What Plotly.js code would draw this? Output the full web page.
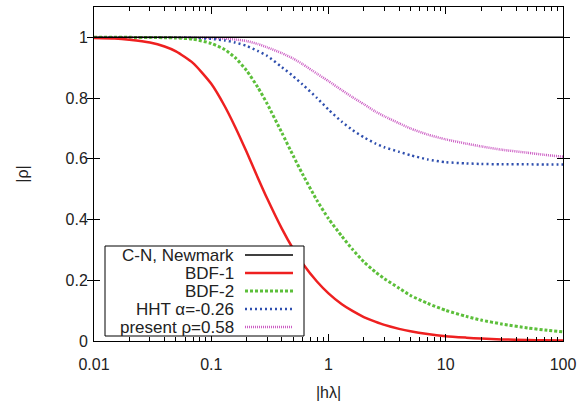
<!DOCTYPE html>
<html>
<head>
<meta charset="utf-8">
<script src="https://cdn.plot.ly/plotly-3.0.1.min.js"></script>
<style>html,body{margin:0;padding:0;background:#fff;}#chart{width:586px;height:401px;}</style>
</head>
<body>
<div id="chart"></div>
<script>
// |hλ| sample positions
var hl = [0.01, 0.015, 0.02, 0.03, 0.04, 0.05, 0.07, 0.1, 0.13, 0.16, 0.2, 0.25, 0.3, 0.4, 0.5, 0.6, 0.8, 1, 1.3, 1.6, 2, 2.5, 3, 4, 5, 7, 10, 15, 20, 30, 50, 70, 100];
// |ρ|
var cnNewmark = [1, 1, 1, 1, 1, 1, 1, 1, 1, 1, 1, 1, 1, 1, 1, 1, 1, 1, 1, 1, 1, 1, 1, 1, 1, 1, 1, 1, 1, 1, 1, 1, 1];
var bdf1 = [0.998, 0.996, 0.992, 0.983, 0.970, 0.954, 0.915, 0.847, 0.774, 0.705, 0.623, 0.537, 0.469, 0.370, 0.303, 0.256, 0.195, 0.157, 0.121, 0.099, 0.079, 0.064, 0.053, 0.040, 0.032, 0.023, 0.016, 0.011, 0.008, 0.0053, 0.0032, 0.0023, 0.0016];
var bdf2 = [1.0, 1.0, 1.0, 0.9995, 0.999, 0.998, 0.994, 0.980, 0.960, 0.933, 0.891, 0.835, 0.781, 0.686, 0.610, 0.550, 0.462, 0.403, 0.345, 0.302, 0.261, 0.228, 0.205, 0.174, 0.150, 0.124, 0.101, 0.081, 0.069, 0.056, 0.043, 0.036, 0.030];
var hht = [1.0, 1.0, 1.0, 1.0, 0.999, 0.999, 0.998, 0.995, 0.990, 0.983, 0.972, 0.955, 0.939, 0.902, 0.872, 0.845, 0.800, 0.762, 0.722, 0.695, 0.671, 0.651, 0.638, 0.623, 0.612, 0.598, 0.589, 0.585, 0.583, 0.582, 0.582, 0.581, 0.581];
var present = [1.0, 1.0, 1.0, 1.0, 1.0, 1.0, 0.999, 0.998, 0.996, 0.993, 0.988, 0.978, 0.967, 0.948, 0.930, 0.912, 0.880, 0.856, 0.826, 0.803, 0.780, 0.756, 0.740, 0.717, 0.700, 0.680, 0.664, 0.650, 0.641, 0.630, 0.620, 0.613, 0.607];
var seriesNames = ["C-N, Newmark", "BDF-1", "BDF-2", "HHT α=-0.26", "present ρ=0.58"];
var xTickVals = [0.01, 0.1, 1, 10, 100];
var xTickText = ["0.01", "0.1", "1", "10", "100"];
var yTickVals = [0, 0.2, 0.4, 0.6, 0.8, 1];
var yTickText = ["0", "0.2", "0.4", "0.6", "0.8", "1"];

// minor log ticks 2..9 in each decade
var xMinorVals = [];
for (var d = 0; d < 4; d++) {
  for (var m = 2; m <= 9; m++) xMinorVals.push(xTickVals[d] * m);
}

var styles = [
  {color: "#000000", width: 1.5, dash: "solid"},
  {color: "#ee2020", width: 2.5, dash: "solid"},
  {color: "#5cbf3a", width: 3, dash: "3px,2px"},
  {color: "#2f4fae", width: 2.5, dash: "2px,3px"},
  {color: "#cc5ec4", width: 2.5, dash: "1px,1px"}
];
var ys = [cnNewmark, bdf1, bdf2, hht, present];

var traces = [];
var order = [4, 3, 2, 1, 0];
order.forEach(function (i) {
  traces.push({
    x: hl, y: ys[i], name: seriesNames[i], type: "scatter", mode: "lines",
    line: {color: styles[i].color, width: styles[i].width, dash: styles[i].dash, shape: "spline", smoothing: 0.6},
    showlegend: false, hoverinfo: "skip"
  });
});
// invisible trace that carries the minor-tick axis
traces.push({x: [0.01, 100], y: [0, 0], xaxis: "x2", yaxis: "y", mode: "lines",
  line: {width: 0, color: "rgba(0,0,0,0)"}, showlegend: false, hoverinfo: "skip"});

// custom legend (text left of sample, like the original)
var shapes = [];
var annotations = [];
var boxX0 = (105 - 94) / 469, boxX1 = (304 - 94) / 469;
var boxY0 = (341 - 336) / 334, boxY1 = (341 - 246) / 334;
shapes.push({type: "rect", xref: "paper", yref: "paper", x0: boxX0, x1: boxX1, y0: boxY0, y1: boxY1,
  line: {color: "#000", width: 1}, fillcolor: "#fff", layer: "above"});
var rowPx = [255, 273, 291, 309, 327];
var sx0 = (245 - 94) / 469, sx1 = (293 - 94) / 469, tx = (235 - 94) / 469;
for (var i = 0; i < 5; i++) {
  var yp = (341 - rowPx[i]) / 334;
  shapes.push({type: "line", xref: "paper", yref: "paper", x0: sx0, x1: sx1, y0: yp, y1: yp,
    line: {color: styles[i].color, width: styles[i].width, dash: styles[i].dash}, layer: "above"});
  annotations.push({xref: "paper", yref: "paper", x: tx, y: yp, xanchor: "right", yanchor: "middle",
    text: seriesNames[i], showarrow: false, borderpad: 0, font: {size: 17, color: "#222"}});
}

var layout = {
  width: 586, height: 401,
  margin: {l: 94, r: 23, t: 7, b: 60},
  paper_bgcolor: "#fff", plot_bgcolor: "#fff",
  font: {family: "Liberation Sans, Arial, sans-serif", size: 16, color: "#222"},
  showlegend: false,
  xaxis: {
    type: "log", range: [-2, 2],
    tickvals: xTickVals, ticktext: xTickText,
    ticks: "inside", ticklen: 7, tickwidth: 1, tickcolor: "#000",
    ticklabelstandoff: 9,
    showline: true, linecolor: "#000", linewidth: 1, mirror: "allticks",
    showgrid: false, zeroline: false,
    tickfont: {size: 16, color: "#222"},
    title: {text: "|hλ|", font: {size: 16, color: "#222"}, standoff: 32}
  },
  xaxis2: {
    type: "log", range: [-2, 2], overlaying: "x", side: "bottom",
    tickvals: xMinorVals, showticklabels: false,
    ticks: "inside", ticklen: 4, tickwidth: 1, tickcolor: "#000",
    showline: true, linecolor: "#000", linewidth: 1, mirror: "allticks",
    showgrid: false, zeroline: false
  },
  yaxis: {
    range: [0, 1.1],
    tickvals: yTickVals, ticktext: yTickText,
    ticks: "inside", ticklen: 6, tickwidth: 1, tickcolor: "#000",
    ticklabelstandoff: 2,
    showline: true, linecolor: "#000", linewidth: 1, mirror: "allticks",
    showgrid: false, zeroline: false,
    tickfont: {size: 16, color: "#222"},
    title: {text: "|ρ|", font: {size: 16, color: "#222"}, standoff: 32}
  },
  shapes: shapes,
  annotations: annotations
};

Plotly.newPlot("chart", traces, layout, {staticPlot: true, displayModeBar: false});
</script>
</body>
</html>
